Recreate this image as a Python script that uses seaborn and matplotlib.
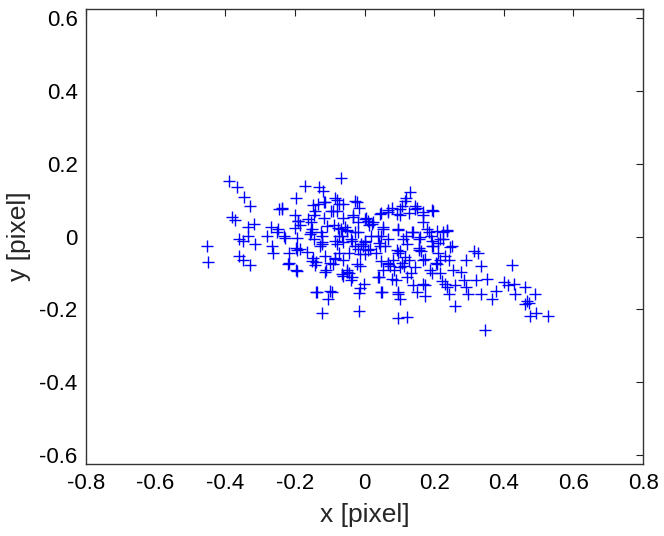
import numpy as np
import pandas as pd
import matplotlib
matplotlib.use("Agg")
import matplotlib.pyplot as plt
import seaborn as sns

# Pontos (x, y em pixel)
x_vals = [
    -0.452, -0.449, -0.39, -0.367, -0.347, -0.328, -0.381, -0.372, -0.36, -0.348,
    -0.36, -0.348, -0.328, -0.317, -0.334, -0.336, -0.314, -0.279, -0.269, -0.266,
    -0.263, -0.245, -0.238, -0.25, -0.23, -0.218, -0.218, -0.196, -0.199, -0.192,
    -0.184, -0.196, -0.186, -0.196, -0.172, -0.13, -0.12, -0.147, -0.145, -0.153,
    -0.153, -0.145, -0.147, -0.14, -0.125, -0.123, -0.128, -0.117, -0.117, -0.138,
    -0.099, -0.105, -0.121, -0.111, -0.099, -0.086, -0.08, -0.096, -0.074, -0.068,
    -0.062, -0.089, -0.074, -0.068, -0.056, -0.05, -0.062, -0.074, -0.086, -0.062,
    -0.044, -0.026, -0.016, -0.032, -0.019, -0.026, -0.038, -0.028, -0.019, -0.011,
    -0.004, 0.001, -0.013, -0.05, -0.062, -0.044, -0.038, -0.013, -0.013, -0.001,
    -0.016, -0.017, 0.005, 0.013, 0.023, 0.02, 0.017, 0.032, 0.048, 0.054,
    0.048, 0.041, 0.048, 0.054, 0.041, 0.048, 0.066, 0.078, 0.06, 0.066,
    0.072, 0.084, 0.082, 0.09, 0.096, 0.102, 0.096, 0.123, 0.096, 0.101,
    0.108, 0.114, 0.096, 0.101, 0.108, 0.12, 0.13, 0.127, 0.12, 0.123,
    0.127, 0.133, 0.139, 0.145, 0.151, 0.139, 0.157, 0.157, 0.163, 0.169,
    0.169, 0.167, 0.169, 0.175, 0.194, 0.184, 0.191, 0.194, 0.188, 0.194,
    0.206, 0.212, 0.218, 0.224, 0.236, 0.212, 0.218, 0.218, 0.23, 0.236,
    0.242, 0.252, 0.244, 0.255, 0.261, 0.276, 0.291, 0.285, 0.291, 0.297,
    0.315, 0.327, 0.321, 0.334, 0.334, 0.346, 0.352, 0.365, 0.379, 0.401,
    0.413, 0.423, 0.428, 0.432, 0.462, 0.468, 0.471, 0.462, 0.489, 0.474,
    0.492, 0.526,
    # zona densa
    -0.08, -0.022, -0.238, -0.134, -0.113, -0.142, -0.09, -0.062, 0.001, -0.033,
    -0.162, -0.191, -0.2, -0.248, -0.152, -0.109, -0.076, -0.051, -0.019, -0.228,
    -0.195, -0.157, -0.123, -0.085, -0.066, -0.037, 0.001,
    0.116, 0.045, 0.068, 0.092, 0.102, 0.145, 0.169, 0.198, 0.011, 0.021,
    0.054, 0.097, 0.136, 0.179, 0.207, 0.236, 0.04, 0.068, 0.111, 0.159,
    0.193, 0.226,
    -0.219, -0.195, -0.152, -0.142, -0.113, -0.09, -0.066, -0.051, -0.037, -0.137,
    -0.094, -0.195, -0.166, -0.123, -0.08, -0.113, -0.085, -0.022, 0.001,
    0.011, 0.045, 0.092, 0.116, 0.068, 0.102, 0.145, 0.174, 0.207, 0.231,
    0.246, 0.198, 0.155, 0.04, 0.078, 0.121, 0.15, 0.174, 0.222, 0.26,
    0.049, 0.097,
]
y_vals = [
    -0.027, -0.071, 0.154, 0.135, 0.109, 0.083, 0.053, 0.047, -0.006, -0.011,
    -0.052, -0.065, -0.077, 0.036, 0.027, 0.003, -0.02, 0.003, 0.027, -0.025,
    -0.044, 0.076, 0.08, 0.013, 0.003, -0.044, -0.072, 0.105, 0.06, 0.043,
    0.032, -0.031, -0.035, -0.091, 0.14, 0.137, 0.126, 0.088, 0.06, 0.041,
    0.013, -0.006, -0.058, -0.069, 0.013, -0.016, -0.025, 0.051, 0.096, -0.153,
    -0.148, -0.172, -0.21, -0.091, -0.072, 0.105, 0.07, 0.07, 0.09, 0.162,
    0.051, 0.032, 0.003, 0.022, 0.027, 0.018, -0.016, -0.044, -0.058, -0.063,
    -0.044, 0.098, 0.079, 0.06, 0.041, 0.013, -0.006, -0.025, -0.035, -0.02,
    -0.025, -0.011, -0.049, -0.091, -0.108, -0.101, -0.12, -0.082, -0.141, -0.131,
    -0.156, -0.203, 0.051, 0.032, 0.041, 0.003, -0.035, -0.044, 0.065, 0.027,
    0.003, -0.018, -0.068, -0.091, -0.11, -0.153, 0.074, 0.079, -0.025, -0.072,
    -0.082, -0.091, -0.063, -0.12, -0.153, -0.172, -0.224, -0.222, -0.044, -0.039,
    -0.072, -0.082, 0.018, 0.06, 0.084, 0.107, 0.122, 0.065, 0.003, -0.02,
    -0.063, -0.101, -0.134, 0.084, 0.079, 0.013, -0.006, -0.03, -0.039, 0.06,
    0.041, -0.063, -0.129, -0.162, 0.074, 0.013, 0.003, -0.025, -0.091, -0.101,
    -0.072, -0.018, -0.006, 0.013, 0.018, -0.044, -0.063, -0.101, -0.129, -0.139,
    -0.158, -0.025, -0.063, -0.091, -0.191, -0.096, -0.063, -0.12, -0.139, -0.158,
    -0.039, -0.044, -0.12, -0.082, -0.158, -0.257, -0.115, -0.172, -0.148, -0.125,
    -0.134, -0.077, -0.129, -0.158, -0.139, -0.177, -0.181, -0.184, -0.158, -0.219,
    -0.21, -0.219,
    # zona densa
    0.101, 0.096, 0.076, 0.09, 0.094, 0.071, 0.071, 0.09, 0.049, 0.053,
    0.049, 0.044, 0.025, 0.022, 0.022, 0.03, 0.025, 0.016, 0.012, -0.005,
    -0.005, 0.008, 0.003, -0.011, 0.003, -0.011, -0.016,
    0.099, 0.063, 0.067, 0.062, 0.077, 0.076, 0.067, 0.071, 0.044, 0.035,
    0.021, 0.021, 0.012, 0.021, 0.016, 0.016, 0.003, -0.006, -0.006, -0.002,
    -0.011, -0.006,
    -0.075, -0.093, -0.066, -0.079, -0.098, -0.075, -0.102, -0.098, -0.111, -0.153,
    -0.153, -0.038, -0.043, -0.02, -0.02, -0.052, -0.061, -0.075, -0.047,
    -0.038, -0.025, -0.038, -0.057, -0.075, -0.084, -0.084, -0.061, -0.075, -0.052,
    -0.029, -0.025, -0.038, -0.111, -0.116, -0.111, -0.153, -0.134, -0.121, -0.134,
    -0.153, -0.157,
]

df = pd.DataFrame({"x": x_vals, "y": y_vals})

sns.set_style("white")
plt.rcParams["font.family"] = ["Liberation Sans", "DejaVu Sans"]

fig = plt.figure(figsize=(6.64, 5.36), dpi=100)
ax = fig.add_axes([0.1295, 0.134, 0.839, 0.849])

sns.scatterplot(data=df, x="x", y="y", ax=ax, marker="+", color="#0000ff",
                s=75, linewidth=1.0)

ax.set_xlim(-0.8, 0.8)
ax.set_ylim(-0.625, 0.625)
ax.set_xticks(np.arange(-0.8, 0.81, 0.2))
ax.set_yticks(np.arange(-0.6, 0.61, 0.2))
ax.set_xticklabels(["-0.8", "-0.6", "-0.4", "-0.2", "0", "0.2", "0.4", "0.6", "0.8"])
ax.set_yticklabels(["-0.6", "-0.4", "-0.2", "0", "0.2", "0.4", "0.6"])
ax.tick_params(direction="in", length=5, width=0.8, top=True, right=True,
               labelsize=16, colors="#222222", labelcolor="black", pad=6)
for sp in ax.spines.values():
    sp.set_color("#333333")
    sp.set_linewidth(1.0)

ax.set_xlabel("x [pixel]", fontsize=19, labelpad=7)
ax.set_ylabel("y [pixel]", fontsize=19, labelpad=6)

fig.savefig("out.png", dpi=100)
